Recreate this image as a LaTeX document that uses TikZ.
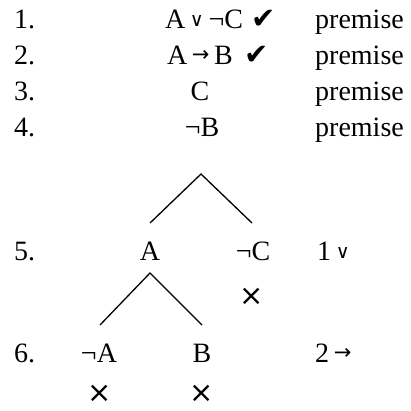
\documentclass[tikz,border=0pt]{standalone}
\usepackage{fontspec}
\setmainfont{Liberation Serif}
\newfontfamily\symfont{DejaVu Sans}
\begin{document}
\begin{tikzpicture}[x=1pt,y=-1pt,
  txt/.style={inner sep=0pt,anchor=base,font=\fontsize{28}{32}\selectfont},
  lft/.style={txt,anchor=base west},
  symb/.style={inner sep=0pt,font=\symfont\fontsize{29}{30}\selectfont},
  chk/.style={inner sep=0pt,anchor=base west,font=\symfont\fontsize{29}{32}\selectfont},
  branch/.style={line width=1.3pt}]
\useasboundingbox (0,0) rectangle (411,410);
\newcommand{\orsym}{{\symfont\fontsize{19}{20}\selectfont\raisebox{0.1ex}{∨}}}
\newcommand{\negsym}{¬}
\newcommand{\arr}{{\symfont\fontsize{21}{22}\selectfont\raisebox{0.2ex}{→}}}
% row numbers
\node[lft] (r1) at (14,28) {1.};
\node[lft] (r2) at (14,64) {2.};
\node[lft] (r3) at (14,100) {3.};
\node[lft] (r4) at (14,136) {4.};
\node[lft] (r5) at (14,260) {5.};
\node[lft] (r6) at (14,362) {6.};
% formulas
\node[txt] (f1) at (204,28) {A\,\orsym\,\negsym C};
\node[chk] (c1) at (251,28) {✔};
\node[txt] (f2) at (200,64) {A\,\arr\,B};
\node[chk] (c2) at (244,64) {✔};
\node[txt] (f3) at (200,100) {C};
\node[txt] (f4) at (202,136) {\negsym B};
\node[txt] (f5a) at (150,260) {A};
\node[txt] (f5b) at (253,260) {\negsym C};
\node[txt] (f6a) at (99,362) {\negsym A};
\node[txt] (f6b) at (202,362) {B};
% justifications
\node[lft] (j1) at (315,28) {premise};
\node[lft] (j2) at (315,64) {premise};
\node[lft] (j3) at (315,100) {premise};
\node[lft] (j4) at (315,136) {premise};
\node[lft] (j5) at (317,260) {1\,\orsym};
\node[lft] (j6) at (315,362) {2\,\arr};
% closed branches
\node[symb] (x1) at (252,297) {×};
\node[symb] (x2) at (100,394) {×};
\node[symb] (x3) at (202,394) {×};
% branching
\coordinate (t1) at (201,174);
\coordinate (t1l) at (150,223);
\coordinate (t1r) at (252,223);
\coordinate (t2) at (150,273);
\coordinate (t2l) at (100,325);
\coordinate (t2r) at (202,325);
\draw[branch] (t1l) -- (t1) -- (t1r);
\draw[branch] (t2l) -- (t2) -- (t2r);
\end{tikzpicture}
\end{document}
